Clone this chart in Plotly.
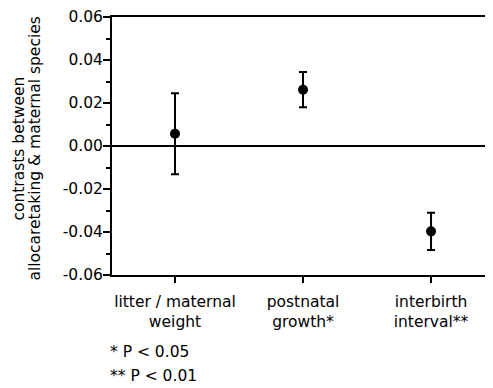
import plotly.graph_objects as go

categories = ["litter / maternal<br>weight", "postnatal<br>growth*", "interbirth<br>interval**"]
means = [0.0057, 0.0262, -0.0397]
errors = [0.0188, 0.0082, 0.0087]
y_ticks = [-0.06, -0.04, -0.02, 0.0, 0.02, 0.04, 0.06]
y_tick_labels = [f"{v:.2f}" for v in y_ticks]
y_title_lines = ["contrasts between", "allocaretaking & maternal species"]
footnotes = ["* P < 0.05", "** P < 0.01"]

FONT = "DejaVu Sans"
FS = 15.5

# the page body has an 8px margin; plot area in page pixels: x 112..493, y 15..275
OFF = 8
L, T, R, B = 112 - OFF, 15 - OFF, 493 - OFF, 275 - OFF
W, H = 493 - OFF, 388 - OFF
PW, PH = R - L, B - T

fig = go.Figure()
fig.add_trace(go.Scatter(
    x=list(range(len(categories))), y=means,
    mode="markers",
    marker=dict(color="black", size=10),
    error_y=dict(type="data", array=errors, color="black", thickness=2, width=4),
    showlegend=False,
))

fig.update_layout(
    width=W, height=H,
    margin=dict(l=L, r=W - R, t=T, b=H - B),
    paper_bgcolor="white", plot_bgcolor="white",
    font=dict(family=FONT, size=FS, color="black"),
    xaxis=dict(
        range=[-0.492, 2.484],
        tickvals=list(range(len(categories))), ticktext=categories,
        showline=True, linecolor="black", linewidth=2, mirror=True,
        ticks="outside", ticklen=6, tickwidth=2, tickcolor="black",
        ticklabelstandoff=5,
        showgrid=False, zeroline=False,
        tickfont=dict(family=FONT, size=FS),
    ),
    yaxis=dict(
        range=[-0.06, 0.06],
        tickvals=y_ticks, ticktext=y_tick_labels,
        showline=True, linecolor="black", linewidth=2,
        ticks="outside", ticklen=7, tickwidth=2, tickcolor="black",
        ticklabeloverflow="allow", ticklabelstandoff=-3,
        minor=dict(dtick=0.01, ticks="outside", ticklen=4, tickwidth=2, tickcolor="black", showgrid=False),
        showgrid=False,
        zeroline=True, zerolinecolor="black", zerolinewidth=2,
        tickfont=dict(family=FONT, size=FS),
    ),
)

# y-axis title lines (tight leading as in the reference), page x-centres
for xp, txt in zip([19, 35], y_title_lines):
    fig.add_annotation(
        text=txt, textangle=-90, showarrow=False,
        xref="paper", yref="paper",
        x=(xp - 112) / PW, y=0.49, xanchor="center", yanchor="middle",
        font=dict(family=FONT, size=FS),
    )

for yp, txt in zip([353, 377], footnotes):
    fig.add_annotation(
        text=txt, showarrow=False,
        xref="paper", yref="paper",
        x=(108 - 112) / PW, y=(275 - yp) / PH, xanchor="left", yanchor="middle",
        font=dict(family=FONT, size=FS),
    )

fig.write_html("out.html")
